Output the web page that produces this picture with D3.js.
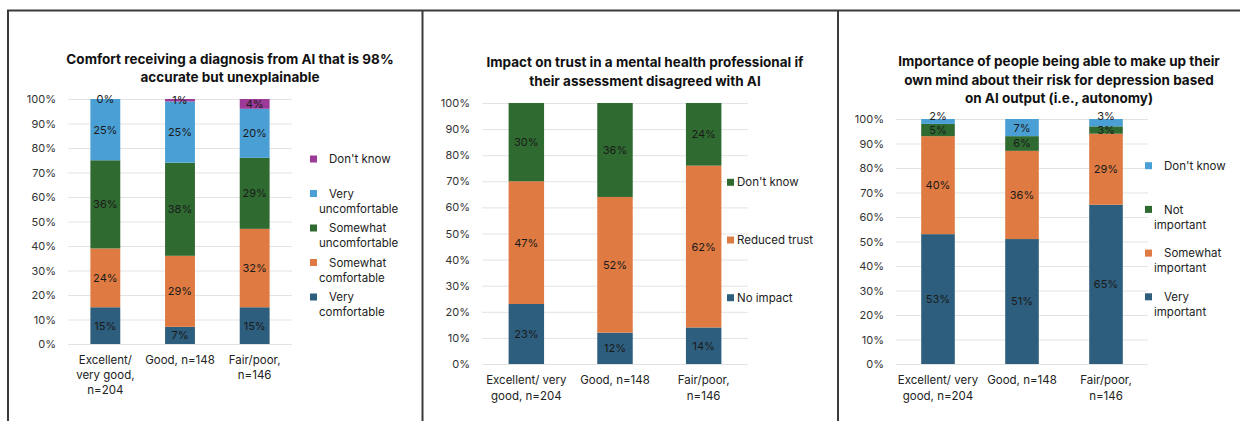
<!DOCTYPE html>
<html>
<head>
<meta charset="utf-8">
<script src="https://cdn.jsdelivr.net/npm/d3@7"></script>
<style>
  body { margin: 0; background: #fff; }
  svg { display: block; font-family: Inter, "Open Sans", sans-serif; }
</style>
</head>
<body>
<svg id="chart" width="1240" height="421"></svg>
<script>
// ---- data ----
const groups = ["Excellent/ very good, n=204", "Good, n=148", "Fair/poor, n=146"];

// chart 1 (bottom to top)
const comfortSeries = ["Very comfortable", "Somewhat comfortable", "Somewhat uncomfortable", "Very uncomfortable", "Don't know"];
const veryComfortable = [15, 7, 15];
const somewhatComfortable = [24, 29, 32];
const somewhatUncomfortable = [36, 38, 29];
const veryUncomfortable = [25, 25, 20];
const comfortDontKnow = [0, 1, 4];

// chart 2 (bottom to top)
const trustSeries = ["No impact", "Reduced trust", "Don't know"];
const noImpact = [23, 12, 14];
const reducedTrust = [47, 52, 62];
const trustDontKnow = [30, 36, 24];

// chart 3 (bottom to top)
const autonomySeries = ["Very important", "Somewhat important", "Not important", "Don't know"];
const veryImportant = [53, 51, 65];
const somewhatImportant = [40, 36, 29];
const notImportant = [5, 6, 3];
const autonomyDontKnow = [2, 7, 3];

const yTicks = [0, 10, 20, 30, 40, 50, 60, 70, 80, 90, 100];

// ---- colours ----
const darkBlue = "#2e5e7d", orange = "#de7a42", green = "#2f6a30", lightBlue = "#4aa0d5", purple = "#9c3a98";

const svg = d3.select("#chart");

// panel frames
svg.append("line").attr("x1", 7).attr("x2", 1240).attr("y1", 10.5).attr("y2", 10.5)
    .attr("stroke", "#3a3a3a").attr("stroke-width", 2);
[8, 422.5, 838].forEach(x => {
    svg.append("line").attr("x1", x).attr("x2", x).attr("y1", 10).attr("y2", 421)
        .attr("stroke", "#3a3a3a").attr("stroke-width", 2);
});

function drawPanel(cfg) {
    const g = svg.append("g");

    // build rows for the stack
    const rows = groups.map((grp, i) => {
        const r = { group: grp };
        cfg.series.forEach((s, k) => r[s] = cfg.values[k][i]);
        return r;
    });
    const stacked = d3.stack().keys(cfg.series)(rows);

    const x = d3.scaleBand().domain(groups).range([cfg.left, cfg.right])
        .paddingInner(0.6).paddingOuter(0.3);
    const y = d3.scaleLinear().domain([0, 100]).range([cfg.bottom, cfg.top]);

    // title
    const title = g.append("text")
        .attr("text-anchor", "middle")
        .attr("font-weight", "bold")
        .attr("font-size", "13.5px")
        .attr("fill", "#111");
    cfg.title.forEach((line, i) => {
        title.append("tspan").attr("x", cfg.titleX).attr("y", cfg.titleY + i * 18.5).text(line);
    });

    // y axis with gridlines
    const yAxis = g.append("g")
        .attr("transform", `translate(${cfg.left},0)`)
        .call(d3.axisLeft(y).tickValues(yTicks).tickFormat(d => d + "%")
            .tickSizeInner(-(cfg.right - cfg.left)).tickSizeOuter(0).tickPadding(12));
    yAxis.select(".domain").remove();
    yAxis.selectAll("line").attr("stroke", "#e3e3e3");
    yAxis.selectAll("text").attr("font-size", "11px").attr("fill", "#333")
        .attr("font-family", "Inter, sans-serif");

    // bars
    stacked.forEach((layer, k) => {
        g.selectAll(null).data(layer).enter().append("rect")
            .attr("x", d => x(d.data.group))
            .attr("width", x.bandwidth())
            .attr("y", d => y(d[1]))
            .attr("height", d => y(d[0]) - y(d[1]))
            .attr("fill", cfg.colors[k]);
    });

    // data labels, centred in each segment; nudged up if they crowd the one below
    groups.forEach((grp, i) => {
        let prevY = null;
        stacked.forEach(layer => {
            const d = layer[i];
            let ly = (y(d[0]) + y(d[1])) / 2;
            if (prevY !== null && prevY - ly < 14) ly = prevY - 14;
            prevY = ly;
            g.append("text")
                .attr("x", x(grp) + x.bandwidth() / 2)
                .attr("y", ly)
                .attr("dy", "0.36em")
                .attr("text-anchor", "middle")
                .attr("font-size", "11px")
                .attr("fill", "#1a1a1a")
                .text((d[1] - d[0]) + "%");
        });
    });

    // category labels
    groups.forEach((grp, i) => {
        const t = g.append("text")
            .attr("text-anchor", "middle")
            .attr("font-size", "11.5px")
            .attr("fill", "#222");
        cfg.groupLines[i].forEach((line, j) => {
            t.append("tspan").attr("x", x(grp) + x.bandwidth() / 2)
                .attr("y", cfg.labelY + j * cfg.labelStep).text(line);
        });
    });

    // legend (top series first)
    const legendItems = cfg.series.map((s, k) => ({ lines: cfg.legendLines[k], color: cfg.colors[k] })).reverse();
    legendItems.forEach((item, k) => {
        const cy = cfg.legendY + k * cfg.legendStep;
        g.append("rect")
            .attr("x", cfg.markerX).attr("y", cy - 3.5)
            .attr("width", 7).attr("height", 7)
            .attr("fill", item.color);
        const t = g.append("text")
            .attr("font-size", "11.5px")
            .attr("fill", "#222");
        item.lines.forEach((line, j) => {
            t.append("tspan")
                .attr("x", j === 0 ? cfg.legendTextX : cfg.legendWrapX)
                .attr("y", cy + j * 15)
                .attr("dy", "0.36em")
                .text(line);
        });
    });
}

drawPanel({
    series: comfortSeries,
    values: [veryComfortable, somewhatComfortable, somewhatUncomfortable, veryUncomfortable, comfortDontKnow],
    colors: [darkBlue, orange, green, lightBlue, purple],
    title: ["Comfort receiving a diagnosis from AI that is 98%", "accurate but unexplainable"],
    titleX: 230, titleY: 63.5,
    left: 68, right: 292, top: 99, bottom: 344,
    groupLines: [["Excellent/", "very good,", "n=204"], ["Good, n=148"], ["Fair/poor,", "n=146"]],
    labelY: 364, labelStep: 15,
    legendLines: [["Very", "comfortable"], ["Somewhat", "comfortable"], ["Somewhat", "uncomfortable"], ["Very", "uncomfortable"], ["Don't know"]],
    legendY: 159, legendStep: 34.5,
    markerX: 310, legendTextX: 329, legendWrapX: 319
});

drawPanel({
    series: trustSeries,
    values: [noImpact, reducedTrust, trustDontKnow],
    colors: [darkBlue, orange, green],
    title: ["Impact on trust in a mental health professional if", "their assessment disagreed with AI"],
    titleX: 645, titleY: 67,
    left: 482, right: 748, top: 103, bottom: 364,
    groupLines: [["Excellent/ very", "good, n=204"], ["Good, n=148"], ["Fair/poor,", "n=146"]],
    labelY: 384, labelStep: 15.7,
    legendLines: [["No impact"], ["Reduced trust"], ["Don't know"]],
    legendY: 182.3, legendStep: 57.7,
    markerX: 727, legendTextX: 737, legendWrapX: 737
});

drawPanel({
    series: autonomySeries,
    values: [veryImportant, somewhatImportant, notImportant, autonomyDontKnow],
    colors: [darkBlue, orange, green, lightBlue],
    title: ["Importance of people being able to make up their", "own mind about their risk for depression based", "on AI output (i.e., autonomy)"],
    titleX: 1059, titleY: 66,
    left: 896, right: 1148, top: 119, bottom: 364,
    groupLines: [["Excellent/ very", "good, n=204"], ["Good, n=148"], ["Fair/poor,", "n=146"]],
    labelY: 384, labelStep: 15.7,
    legendLines: [["Very", "important"], ["Somewhat", "important"], ["Not", "important"], ["Don't know"]],
    legendY: 165.7, legendStep: 43.7,
    markerX: 1145, legendTextX: 1164, legendWrapX: 1154
});
</script>
</body>
</html>
